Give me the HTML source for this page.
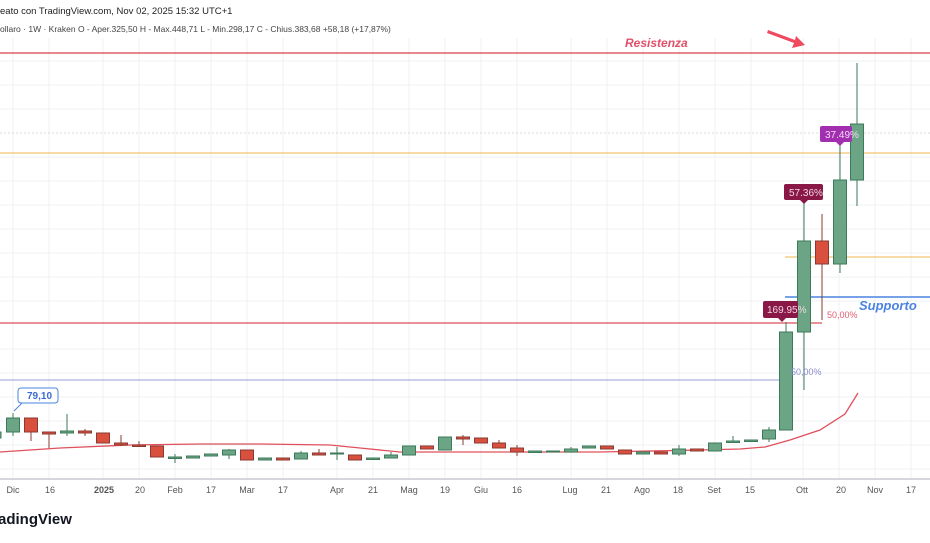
<!DOCTYPE html>
<html><head><meta charset="utf-8"><style>
body{margin:0;background:#fff;width:930px;height:538px;overflow:hidden;font-family:"Liberation Sans",sans-serif}
</style></head><body>
<svg width="930" height="538" xmlns="http://www.w3.org/2000/svg" font-family="Liberation Sans, sans-serif">
<rect width="930" height="538" fill="#fff"/>
<g stroke="#eef0f3" stroke-width="1">
<line x1="0" y1="61" x2="930" y2="61"/><line x1="0" y1="85" x2="930" y2="85"/><line x1="0" y1="109" x2="930" y2="109"/><line x1="0" y1="157" x2="930" y2="157"/><line x1="0" y1="181" x2="930" y2="181"/><line x1="0" y1="205" x2="930" y2="205"/><line x1="0" y1="229" x2="930" y2="229"/><line x1="0" y1="253" x2="930" y2="253"/><line x1="0" y1="277" x2="930" y2="277"/><line x1="0" y1="301" x2="930" y2="301"/><line x1="0" y1="349" x2="930" y2="349"/><line x1="0" y1="373" x2="930" y2="373"/><line x1="0" y1="397" x2="930" y2="397"/><line x1="0" y1="421" x2="930" y2="421"/><line x1="0" y1="445" x2="930" y2="445"/><line x1="0" y1="469" x2="930" y2="469"/>
<line x1="13" y1="38" x2="13" y2="479"/><line x1="49" y1="38" x2="49" y2="479"/><line x1="103" y1="38" x2="103" y2="479"/><line x1="139" y1="38" x2="139" y2="479"/><line x1="175" y1="38" x2="175" y2="479"/><line x1="211" y1="38" x2="211" y2="479"/><line x1="247" y1="38" x2="247" y2="479"/><line x1="283" y1="38" x2="283" y2="479"/><line x1="337" y1="38" x2="337" y2="479"/><line x1="373" y1="38" x2="373" y2="479"/><line x1="409" y1="38" x2="409" y2="479"/><line x1="445" y1="38" x2="445" y2="479"/><line x1="481" y1="38" x2="481" y2="479"/><line x1="517" y1="38" x2="517" y2="479"/><line x1="571" y1="38" x2="571" y2="479"/><line x1="607" y1="38" x2="607" y2="479"/><line x1="643" y1="38" x2="643" y2="479"/><line x1="679" y1="38" x2="679" y2="479"/><line x1="715" y1="38" x2="715" y2="479"/><line x1="751" y1="38" x2="751" y2="479"/><line x1="803" y1="38" x2="803" y2="479"/><line x1="839" y1="38" x2="839" y2="479"/><line x1="875" y1="38" x2="875" y2="479"/><line x1="911" y1="38" x2="911" y2="479"/>
</g>
<line x1="0" y1="133" x2="930" y2="133" stroke="#d8dadf" stroke-dasharray="2,2"/>
<line x1="0" y1="479" x2="930" y2="479" stroke="#c8cad0" stroke-width="1.5"/>
<!-- levels -->
<line x1="0" y1="53" x2="930" y2="53" stroke="#d9404a" stroke-width="1.3"/>
<line x1="0" y1="153" x2="930" y2="153" stroke="#f2c470" stroke-width="1.3"/>
<line x1="785" y1="257" x2="930" y2="257" stroke="#f2c470" stroke-width="1.3"/>
<line x1="785" y1="297" x2="930" y2="297" stroke="#4a84e0" stroke-width="1.6"/>
<line x1="0" y1="323" x2="822" y2="323" stroke="#d9505a" stroke-width="1.3"/>
<line x1="0" y1="380" x2="779" y2="380" stroke="#9a9cd6" stroke-width="1"/>
<!-- MA -->
<polyline fill="none" stroke="#e0505c" stroke-width="1.3" points="0,452 60,448 130,445 200,444 260,444 330,445 360,448 400,452 500,452 600,452 700,450 740,449 765,447 790,440 820,430 845,414 858,393"/>
<!-- candles -->
<g stroke-width="1">
<g stroke="#3c7a5a" fill="#6ba585">
<rect x="-12" y="432" width="13" height="6"/>
<line x1="13" y1="413" x2="13" y2="418"/><line x1="13" y1="432" x2="13" y2="436"/><rect x="6.5" y="418" width="13" height="14"/>
<line x1="67" y1="414" x2="67" y2="436"/><rect x="60.5" y="431" width="13" height="2"/>
<rect x="186.5" y="456" width="13" height="2"/><rect x="204.5" y="454" width="13" height="2"/>
<line x1="175" y1="454" x2="175" y2="463"/><rect x="168.5" y="457" width="13" height="1.5"/>
<line x1="229" y1="449" x2="229" y2="459"/><rect x="222.5" y="450" width="13" height="5"/>
<rect x="258.5" y="458" width="13" height="2"/>
<line x1="301" y1="451" x2="301" y2="459"/><rect x="294.5" y="453" width="13" height="6"/>
<line x1="337" y1="447" x2="337" y2="460"/><rect x="330.5" y="453" width="13" height="1"/>
<rect x="366.5" y="458" width="13" height="1.5"/>
<line x1="391" y1="452" x2="391" y2="458"/><rect x="384.5" y="455" width="13" height="3"/>
<rect x="402.5" y="446" width="13" height="9"/>
<rect x="438.5" y="437" width="13" height="13"/>
<rect x="528.5" y="451" width="13" height="1.5"/><rect x="546.5" y="451" width="13" height="1"/>
<line x1="571" y1="447" x2="571" y2="452"/><rect x="564.5" y="449" width="13" height="3"/>
<rect x="582.5" y="446" width="13" height="2"/>
<rect x="636.5" y="452" width="13" height="2"/>
<line x1="679" y1="445" x2="679" y2="456"/><rect x="672.5" y="449" width="13" height="5"/>
<rect x="708.5" y="443" width="13" height="8"/>
<line x1="733" y1="436" x2="733" y2="442"/><rect x="726.5" y="441" width="13" height="1.5"/>
<rect x="744.5" y="440" width="13" height="1.5"/>
<line x1="769" y1="427" x2="769" y2="442"/><rect x="762.5" y="430" width="13" height="9"/>
<line x1="786" y1="322" x2="786" y2="332"/><rect x="779.5" y="332" width="13" height="98"/>
<line x1="804" y1="203" x2="804" y2="390"/><rect x="797.5" y="241" width="13" height="91"/>
<line x1="840" y1="135" x2="840" y2="273"/><rect x="833.5" y="180" width="13" height="84"/>
<line x1="857" y1="63" x2="857" y2="206"/><rect x="850.5" y="124" width="13" height="56"/>
</g>
<g stroke="#8a3a30" fill="#d9503f">
<line x1="31" y1="432" x2="31" y2="441"/><rect x="24.5" y="418" width="13" height="14"/>
<line x1="49" y1="432" x2="49" y2="448"/><rect x="42.5" y="432" width="13" height="2"/>
<line x1="85" y1="429" x2="85" y2="436"/><rect x="78.5" y="431" width="13" height="2"/>
<rect x="96.5" y="433" width="13" height="10"/>
<line x1="121" y1="435" x2="121" y2="446"/><rect x="114.5" y="443" width="13" height="2"/>
<line x1="139" y1="441" x2="139" y2="447"/><rect x="132.5" y="445" width="13" height="1.5"/>
<rect x="150.5" y="446" width="13" height="11"/>
<rect x="240.5" y="450" width="13" height="10"/>
<rect x="276.5" y="458" width="13" height="2"/>
<line x1="319" y1="449" x2="319" y2="455"/><rect x="312.5" y="453" width="13" height="2"/>
<rect x="348.5" y="455" width="13" height="5"/>
<rect x="420.5" y="446" width="13" height="3"/>
<line x1="463" y1="435" x2="463" y2="445"/><rect x="456.5" y="437" width="13" height="2"/>
<rect x="474.5" y="438" width="13" height="5"/>
<line x1="499" y1="440" x2="499" y2="448"/><rect x="492.5" y="443" width="13" height="5"/>
<line x1="517" y1="445" x2="517" y2="456"/><rect x="510.5" y="448" width="13" height="4"/>
<rect x="600.5" y="446" width="13" height="3"/>
<rect x="618.5" y="450" width="13" height="4"/>
<rect x="654.5" y="452" width="13" height="2"/>
<rect x="690.5" y="449" width="13" height="2"/>
<line x1="822" y1="214" x2="822" y2="320"/><rect x="815.5" y="241" width="13" height="23"/>
</g>
</g>
<!-- labels -->
<rect x="763" y="301" width="35" height="17" rx="2" fill="#8a1846"/><path d="M778,318 L782,322 L786,318Z" fill="#8a1846"/>
<text x="767" y="313" font-size="10" fill="#f0d8e2">169.95%</text>
<rect x="784" y="184" width="39" height="16" rx="2" fill="#8a1846"/><path d="M800,200 L804,204 L808,200Z" fill="#8a1846"/>
<text x="789" y="196" font-size="10" fill="#f0d8e2">57.36%</text>
<rect x="820" y="126" width="32" height="16" rx="2" fill="#a12fb0"/><path d="M836,142 L840,146 L844,142Z" fill="#a12fb0"/>
<text x="825" y="138" font-size="10" fill="#f3dcf5">37.49%</text>
<text x="827" y="318" font-size="9" fill="#e06070">50,00%</text>
<text x="791" y="375" font-size="9" fill="#8a8ad0">50,00%</text>
<text x="625" y="47" font-size="12" font-style="italic" font-weight="bold" fill="#e0506a">Resistenza</text>
<text x="859" y="310" font-size="13" font-style="italic" font-weight="bold" fill="#4a84e0">Supporto</text>
<path d="M768,30 L795,40 L796,36 L805,45 L792,48 L794,43 L767,33Z" fill="#ee4a60"/>
<rect x="18" y="388" width="40" height="15" rx="3" fill="#fff" stroke="#4a84e0"/>
<path d="M22,403 L14,411" stroke="#4a84e0"/>
<text x="27" y="399" font-size="10" font-weight="bold" fill="#3a6ad0">79,10</text>
<!-- header -->
<text x="0" y="14" font-size="9.5" fill="#222">eato con TradingView.com, Nov 02, 2025 15:32 UTC+1</text>
<text x="0" y="32" font-size="8.5" fill="#444">ollaro · 1W · Kraken  O - Aper.325,50  H - Max.448,71  L - Min.298,17  C - Chius.383,68  +58,18 (+17,87%)</text>
<!-- x axis -->
<g font-size="9" fill="#555" text-anchor="middle">
<text x="13" y="493">Dic</text><text x="50" y="493">16</text><text x="104" y="493" font-weight="bold">2025</text><text x="140" y="493">20</text><text x="175" y="493">Feb</text><text x="211" y="493">17</text><text x="247" y="493">Mar</text><text x="283" y="493">17</text><text x="337" y="493">Apr</text><text x="373" y="493">21</text><text x="409" y="493">Mag</text><text x="445" y="493">19</text><text x="481" y="493">Giu</text><text x="517" y="493">16</text><text x="570" y="493">Lug</text><text x="606" y="493">21</text><text x="642" y="493">Ago</text><text x="678" y="493">18</text><text x="714" y="493">Set</text><text x="750" y="493">15</text><text x="802" y="493">Ott</text><text x="841" y="493">20</text><text x="875" y="493">Nov</text><text x="911" y="493">17</text>
</g>
<text x="-2" y="524" font-size="15" font-weight="bold" fill="#131722">adingView</text>
</svg>
</body></html>
